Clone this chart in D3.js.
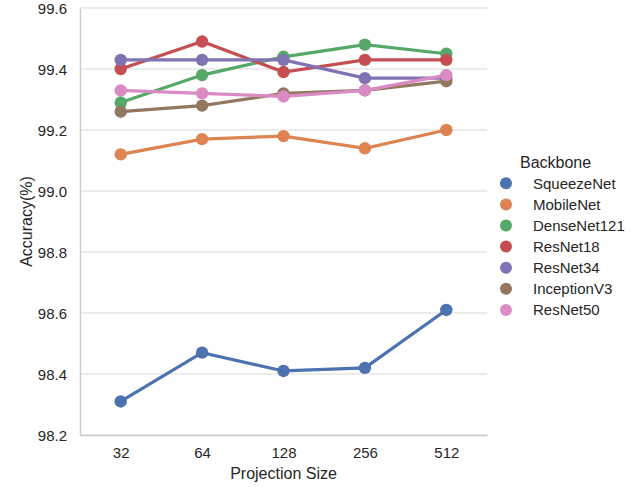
<!DOCTYPE html>
<html>
<head>
<meta charset="utf-8">
<script src="https://cdn.jsdelivr.net/npm/d3@7"></script>
<style>
  body { margin: 0; background: #fff; }
  svg text { font-family: "Liberation Sans", Arial, sans-serif; fill: #262626; }
</style>
</head>
<body>
<div id="chart"></div>
<script>
// Data.
var projectionSizes = ["32", "64", "128", "256", "512"];
var backbones = ["SqueezeNet", "MobileNet", "DenseNet121", "ResNet18", "ResNet34", "InceptionV3", "ResNet50"];
var squeezeNet = [98.31, 98.47, 98.41, 98.42, 98.61];
var mobileNet = [99.12, 99.17, 99.18, 99.14, 99.20];
var denseNet121 = [99.29, 99.38, 99.44, 99.48, 99.45];
var resNet18 = [99.40, 99.49, 99.39, 99.43, 99.43];
var resNet34 = [99.43, 99.43, 99.43, 99.37, 99.37];
var inceptionV3 = [99.26, 99.28, 99.32, 99.33, 99.36];
var resNet50 = [99.33, 99.32, 99.31, 99.33, 99.38];
var yTicks = [98.2, 98.4, 98.6, 98.8, 99.0, 99.2, 99.4, 99.6];
var palette = ["#4c72b0", "#dd8452", "#55a868", "#c44e52", "#8172b3", "#937860", "#da8bc3"];

var seriesValues = [squeezeNet, mobileNet, denseNet121, resNet18, resNet34, inceptionV3, resNet50];

var width = 639, height = 487;
var margin = { left: 80, right: 152, top: 8, bottom: 52 };

var svg = d3.select("#chart").append("svg")
    .attr("width", width)
    .attr("height", height);

var x = d3.scalePoint()
    .domain(projectionSizes)
    .range([margin.left, width - margin.right])
    .padding(0.5);

var y = d3.scaleLinear()
    .domain([98.2, 99.6])
    .range([height - margin.bottom, margin.top]);

var color = d3.scaleOrdinal().domain(backbones).range(palette);

// Horizontal grid lines.
svg.append("g")
    .selectAll("line")
    .data(yTicks)
    .enter().append("line")
    .attr("x1", margin.left)
    .attr("x2", width - margin.right)
    .attr("y1", d => y(d))
    .attr("y2", d => y(d))
    .attr("stroke", "#d9d9d9")
    .attr("stroke-width", 1.2);

// Axes (left + bottom spine only, like a despined seaborn plot).
var yAxis = svg.append("g")
    .attr("transform", "translate(" + margin.left + ",0)")
    .call(d3.axisLeft(y).tickValues(yTicks).tickFormat(d3.format(".1f")).tickSize(0).tickPadding(13));
var xAxis = svg.append("g")
    .attr("transform", "translate(0," + (height - margin.bottom) + ")")
    .call(d3.axisBottom(x).tickSize(0).tickPadding(12));

[yAxis, xAxis].forEach(function(a) {
    a.select(".domain").attr("stroke", "#cccccc").attr("stroke-width", 1.5);
    a.selectAll("text").attr("font-size", 15).attr("fill", "#262626").attr("font-family", "Liberation Sans, Arial, sans-serif");
});
yAxis.selectAll("text").attr("dy", "0.35em");

svg.append("text")
    .attr("x", (margin.left + width - margin.right) / 2)
    .attr("y", height - 8)
    .attr("text-anchor", "middle")
    .attr("font-size", 16)
    .text("Projection Size");

svg.append("text")
    .attr("transform", "translate(32," + ((margin.top + height - margin.bottom) / 2) + ") rotate(-90)")
    .attr("text-anchor", "middle")
    .attr("font-size", 16)
    .text("Accuracy(%)");

// Lines and points.
var line = d3.line()
    .x((d, i) => x(projectionSizes[i]))
    .y(d => y(d));

var series = svg.append("g")
    .selectAll("g")
    .data(backbones)
    .enter().append("g");

series.append("path")
    .attr("d", (d, i) => line(seriesValues[i]))
    .attr("fill", "none")
    .attr("stroke", d => color(d))
    .attr("stroke-width", 3.2);

series.selectAll("circle")
    .data((d, i) => seriesValues[i].map((v, j) => ({ name: d, size: projectionSizes[j], value: v })))
    .enter().append("circle")
    .attr("cx", d => x(d.size))
    .attr("cy", d => y(d.value))
    .attr("r", 6.2)
    .attr("fill", d => color(d.name));

// Legend.
var legend = svg.append("g").attr("transform", "translate(506,162)");
legend.append("text")
    .attr("x", 14)
    .attr("y", 0)
    .attr("dy", "0.35em")
    .attr("font-size", 16)
    .text("Backbone");

var item = legend.selectAll(".item")
    .data(backbones)
    .enter().append("g")
    .attr("class", "item")
    .attr("transform", (d, i) => "translate(0," + (21.3 + i * 21.1) + ")");
item.append("circle")
    .attr("r", 6)
    .attr("fill", d => color(d));
item.append("text")
    .attr("x", 27)
    .attr("dy", "0.35em")
    .attr("font-size", 15)
    .text(d => d);
</script>
</body>
</html>
